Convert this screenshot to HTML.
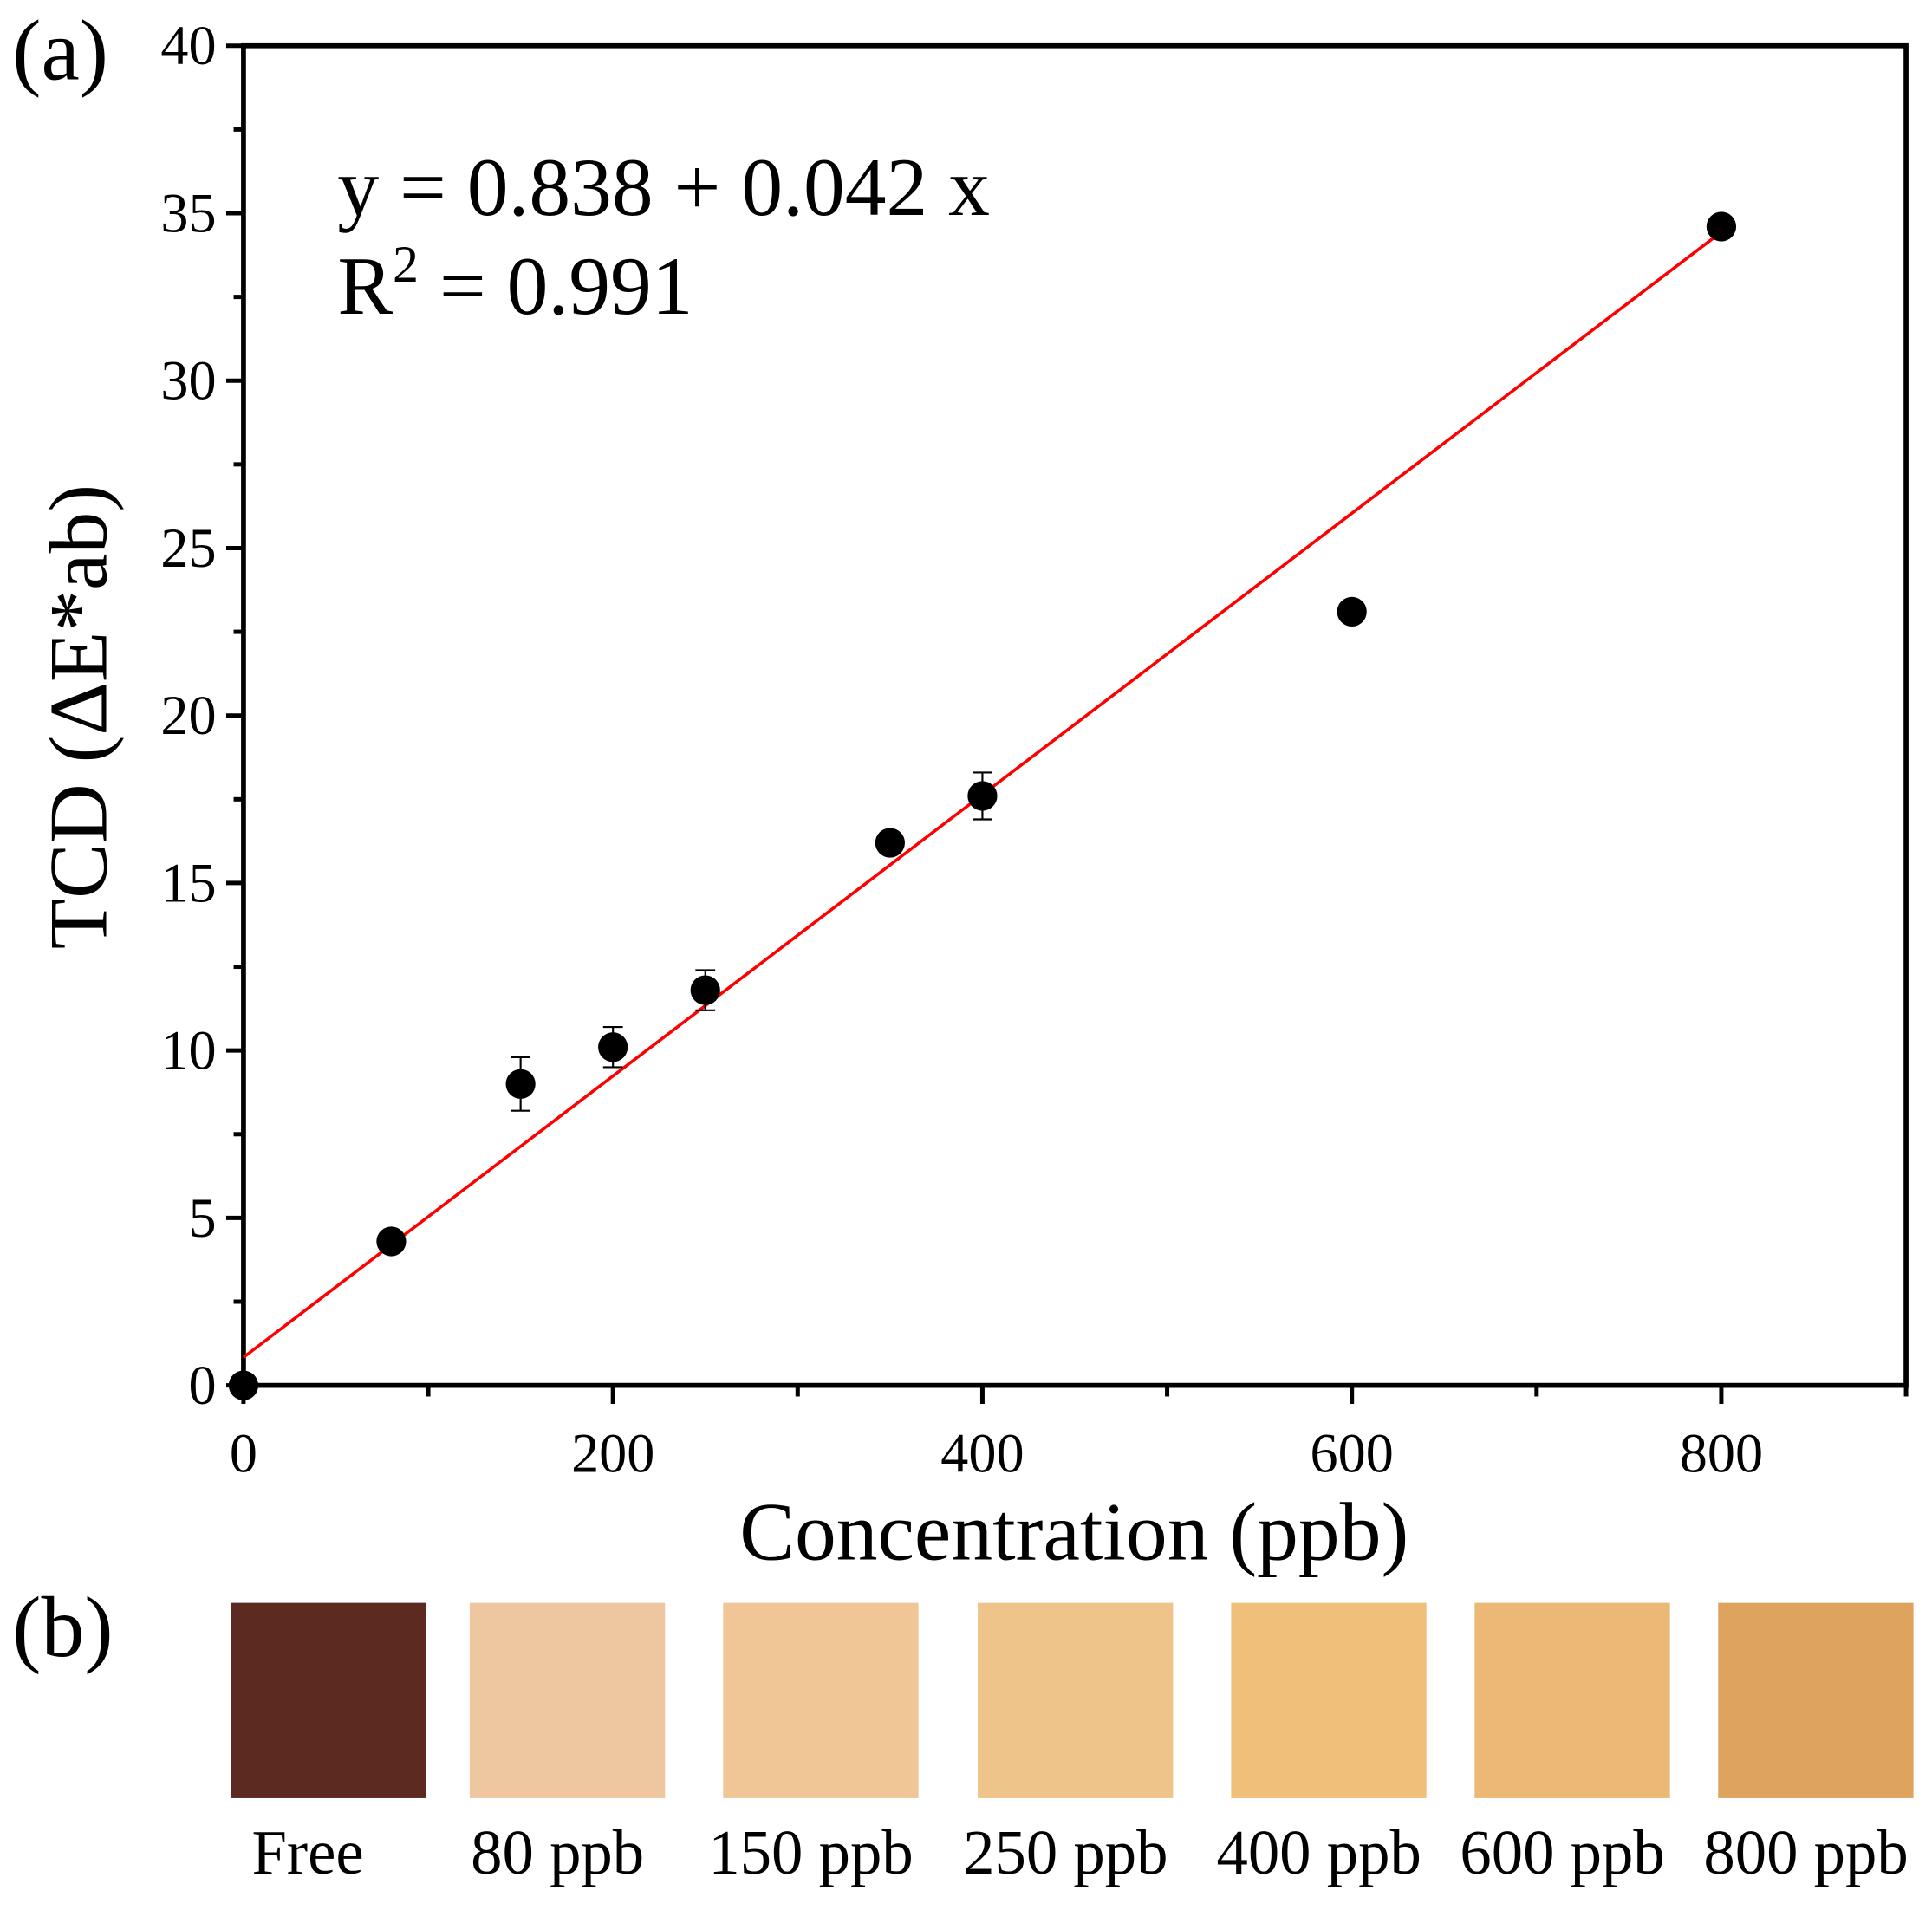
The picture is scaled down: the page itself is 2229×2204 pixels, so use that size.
<!DOCTYPE html>
<html><head><meta charset="utf-8"><style>
html,body{margin:0;padding:0;background:#fff;}
svg{display:block;font-family:"Liberation Serif",serif;}
</style></head><body>
<svg id="chart" width="2229" height="2204" viewBox="0 0 1563 1545.5" preserveAspectRatio="none" xmlns="http://www.w3.org/2000/svg">
<g id="axes"></g>
<g id="marks"></g>
<text x="10" y="64" font-size="70">(a)</text>
<text x="10" y="1340" font-size="70">(b)</text>
<text x="273" y="174" font-size="67">y = 0.838 + 0.042 x</text>
<text x="273" y="254" font-size="67">R<tspan dy="-26" font-size="42">2</tspan><tspan dy="26"> = 0.991</tspan></text>
<text x="869" y="1262" font-size="67" text-anchor="middle">Concentration (ppb)</text>
<text transform="translate(86,580) rotate(-90)" font-size="67" text-anchor="middle">TCD (ΔE*ab)</text>
<g id="swatches"></g>
</svg>
<script>
const xs = [0, 80, 150, 200, 250, 350, 400, 600, 800];
const ys = [0, 4.3, 9.0, 10.1, 11.8, 16.2, 17.6, 23.1, 34.6];
const errs = [0, 0.3, 0.8, 0.6, 0.6, 0.2, 0.7, 0.2, 0.2];
const xTicks = [0, 200, 400, 600, 800];
const yTicks = [0, 5, 10, 15, 20, 25, 30, 35, 40];
const fitIntercept = 0.838;
const fitSlope = 0.042;
const swatchLabels = ["Free", "80 ppb", "150 ppb", "250 ppb", "400 ppb", "600 ppb", "800 ppb"];
const swatchColors = ["#5c2a20", "#eec6a0", "#f0c697", "#efc48a", "#f0c07a", "#ebb975", "#dea35f"];

const NS = "http://www.w3.org/2000/svg";
const L = 197, R = 1542, T = 37, B = 1121;
const sx = v => L + (v - 0) / 900 * (R - L);
const sy = v => B - v / 40 * (B - T);
function mk(tag, attrs, parent) {
  const e = document.createElementNS(NS, tag);
  for (const k in attrs) e.setAttribute(k, attrs[k]);
  parent.appendChild(e);
  return e;
}
const axes = document.getElementById('axes');
const marks = document.getElementById('marks');
let e = mk('rect', {x: L, y: T, width: R - L, height: B - T, fill: 'none', stroke: '#000', 'stroke-width': 4}, axes);


for (let v = 0; v <= 40; v += 2.5) {
  const major = v % 5 === 0;
  const t = mk('line', {x1: L - (major ? 14 : 8), x2: L, y1: sy(v), y2: sy(v), stroke: '#000', 'stroke-width': 3.5}, axes);
  
  
}
yTicks.forEach(v => {
  const t = mk('text', {x: L - 22, y: sy(v) + 15, 'font-size': 45, 'text-anchor': 'end'}, axes);
  t.textContent = v;
  
  
});
for (let v = 0; v <= 900; v += 100) {
  const major = v % 200 === 0;
  const t = mk('line', {x1: sx(v), x2: sx(v), y1: B, y2: B + (major ? 15 : 9), stroke: '#000', 'stroke-width': 3.5}, axes);
  
  
}
xTicks.forEach(v => {
  const t = mk('text', {x: sx(v), y: B + 70, 'font-size': 45, 'text-anchor': 'middle'}, axes);
  t.textContent = v;
  
  
});
const fit = mk('line', {x1: sx(0), y1: sy(fitIntercept), x2: sx(800), y2: sy(fitIntercept + fitSlope * 800), stroke: '#f00', 'stroke-width': 2.5}, marks);


xs.forEach((x, i) => {
  const cx = sx(x), cy = sy(ys[i]);
  if (errs[i] > 0.25) {
    const top = sy(ys[i] + errs[i]), bot = sy(ys[i] - errs[i]);
    const eb = mk('path', {d: `M${cx},${top}V${bot}M${cx - 8},${top}H${cx + 8}M${cx - 8},${bot}H${cx + 8}`, stroke: '#000', 'stroke-width': 1.5, fill: 'none'}, marks);
    
    
  }
  const c = mk('circle', {cx: cx, cy: cy, r: 12, fill: '#000'}, marks);
  
  
});
const sw = document.getElementById('swatches');
const swX = [187, 380, 585, 791, 996, 1193, 1390];
swatchLabels.forEach((lab, i) => {
  const r = mk('rect', {x: swX[i], y: 1297, width: 158, height: 158, fill: swatchColors[i]}, sw);
  
  
  const t = mk('text', {x: swX[i] + 79 - (i === 0 ? 17 : 8), y: 1516, 'font-size': 51, 'text-anchor': 'middle'}, sw);
  t.textContent = lab;
  
  
});
</script>
</body></html>
